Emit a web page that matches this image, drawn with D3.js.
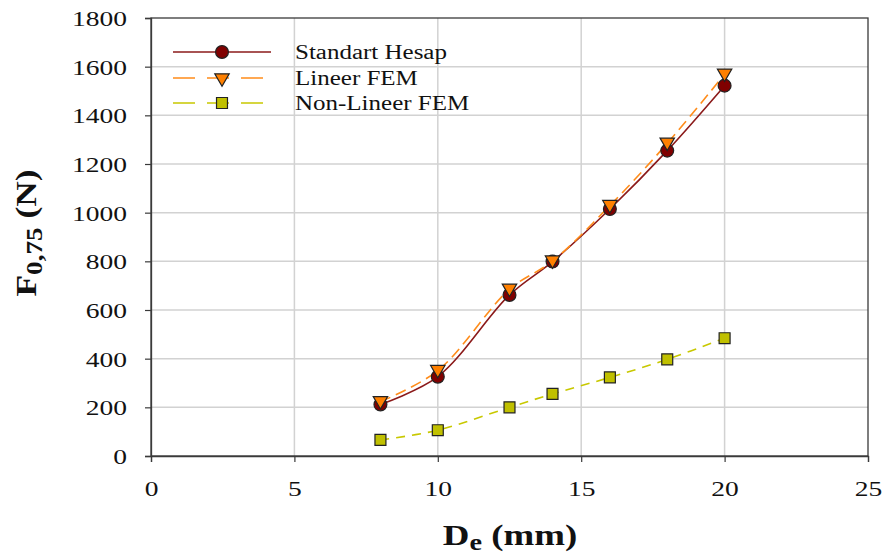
<!DOCTYPE html>
<html><head><meta charset="utf-8">
<script src="https://cdn.jsdelivr.net/npm/d3@7"></script>
<style>body{margin:0;background:#fff}svg{display:block}</style>
</head><body><svg id="c" width="883" height="554"></svg>
<script>
const xValues = [8, 10, 12.5, 14, 16, 18, 20];
const standartHesap = [212, 326, 662, 799, 1015, 1255, 1522];
const lineerFEM = [223, 351, 685, 801, 1029, 1285, 1569];
const nonLineerFEM = [66, 106, 200, 255, 323, 397, 484];
const xTicks = [0, 5, 10, 15, 20, 25];
const yTicks = [0, 200, 400, 600, 800, 1000, 1200, 1400, 1600, 1800];
const seriesNames = ["Standart Hesap", "Lineer FEM", "Non-Lineer FEM"];

const svg = d3.select("#c");
const L = 151, R = 868, T = 18, B = 456;
const SX = 1.25;
const x = d3.scaleLinear().domain([0, 25]).range([L, R]);
const y = d3.scaleLinear().domain([0, 1800]).range([B, T]);
const font = "'Liberation Serif', 'Times New Roman', serif";

// grid
svg.append("g").selectAll("line").data(xTicks.slice(1, -1)).join("line")
  .attr("x1", d => x(d)).attr("x2", d => x(d)).attr("y1", T).attr("y2", B)
  .attr("stroke", "#d2d2d2").attr("stroke-width", 1.5);
svg.append("g").selectAll("line").data(yTicks.slice(1, -1)).join("line")
  .attr("x1", L).attr("x2", R).attr("y1", d => y(d)).attr("y2", d => y(d))
  .attr("stroke", "#d2d2d2").attr("stroke-width", 1.5);

// frame
svg.append("rect").attr("x", L).attr("y", T).attr("width", R - L).attr("height", B - T)
  .attr("fill", "none").attr("stroke", "#3a3a3a").attr("stroke-width", 1.3);

// axes
const xAxis = svg.append("g").attr("transform", `translate(0,${B})`)
  .call(d3.axisBottom(x).tickValues(xTicks).tickSize(6).tickFormat(d3.format("d")));
const yAxis = svg.append("g").attr("transform", `translate(${L},0)`)
  .call(d3.axisLeft(y).tickValues(yTicks).tickSize(6).tickFormat(d3.format("d")));
[xAxis, yAxis].forEach(a => {
  a.select(".domain").attr("stroke", "#3a3a3a").attr("stroke-width", 1.3);
  a.selectAll(".tick line").attr("stroke", "#3a3a3a").attr("stroke-width", 1.2);
  a.selectAll("text").attr("font-family", font).attr("font-size", 22).attr("fill", "#111")
    .attr("transform", `scale(${SX},1)`);
});
xAxis.selectAll("text").attr("y", 40).attr("dy", 0);
yAxis.selectAll("text").attr("x", -24 / SX).attr("dy", "0.34em");

// series
const series = [
  {name: seriesNames[0], vals: standartHesap, line: "#8b1a1a", fill: "#800000", dash: null, sym: d3.symbolCircle, size: 130},
  {name: seriesNames[1], vals: lineerFEM, line: "#ff8c1a", fill: "#ff8000", dash: "11,6", sym: d3.symbolTriangle, size: 90},
  {name: seriesNames[2], vals: nonLineerFEM, line: "#c8c800", fill: "#c0c000", dash: "9,7", sym: d3.symbolSquare, size: 120}
];
const line = d3.line().x(d => x(d[0])).y(d => y(d[1])).curve(d3.curveCatmullRom.alpha(0.5));
const drawOrder = [2, 0, 1];
drawOrder.forEach(i => {
  const s = series[i];
  const pts = xValues.map((xv, j) => [xv, s.vals[j]]);
  svg.append("path").datum(pts).attr("d", line).attr("fill", "none")
    .attr("stroke", s.line).attr("stroke-width", 1.6)
    .attr("stroke-dasharray", s.dash);
});
drawOrder.forEach(i => {
  const s = series[i];
  const pts = xValues.map((xv, j) => [xv, s.vals[j]]);
  svg.append("g").selectAll("path").data(pts).join("path")
    .attr("d", d3.symbol().type(s.sym).size(s.size))
    .attr("transform", d => `translate(${x(d[0])},${y(d[1])})` + (s.sym === d3.symbolTriangle ? " rotate(180) translate(0,1)" : ""))
    .attr("fill", s.fill).attr("stroke", "#222").attr("stroke-width", 1.2);
});

// legend
const legRows = [52, 78, 103];
series.forEach((s, i) => {
  const g = svg.append("g").attr("transform", `translate(0,${legRows[i]})`);
  g.append("line").attr("x1", 173).attr("x2", 271).attr("y1", 0).attr("y2", 0)
    .attr("stroke", s.line).attr("stroke-width", 1.5)
    .attr("stroke-dasharray", s.dash ? "22,12" : null);
  g.append("path").attr("d", d3.symbol().type(s.sym).size(s.size))
    .attr("transform", "translate(222,0)" + (s.sym === d3.symbolTriangle ? " rotate(180)" : ""))
    .attr("fill", s.fill).attr("stroke", "#222").attr("stroke-width", 1.2);
  g.append("text").attr("transform", `translate(295,7) scale(${SX},1)`).text(s.name)
    .attr("font-family", font).attr("font-size", 20).attr("fill", "#111");
});

// axis titles
const xt = svg.append("text").attr("transform", `translate(510,545) scale(1.23,1)`).attr("text-anchor", "middle")
  .attr("font-family", font).attr("font-weight", "bold").attr("font-size", 30).attr("fill", "#111");
xt.append("tspan").text("D");
xt.append("tspan").text("e").attr("font-size", 23).attr("dy", 5);
xt.append("tspan").text(" (mm)").attr("dy", -5);

const yt = svg.append("text").attr("transform", "translate(36,233) rotate(-90) scale(1.18,1)").attr("text-anchor", "middle")
  .attr("font-family", font).attr("font-weight", "bold").attr("font-size", 30).attr("fill", "#111");
yt.append("tspan").text("F");
yt.append("tspan").text("0,75").attr("font-size", 23).attr("dy", 6);
yt.append("tspan").text(" (N)").attr("dy", -6);
</script></body></html>
